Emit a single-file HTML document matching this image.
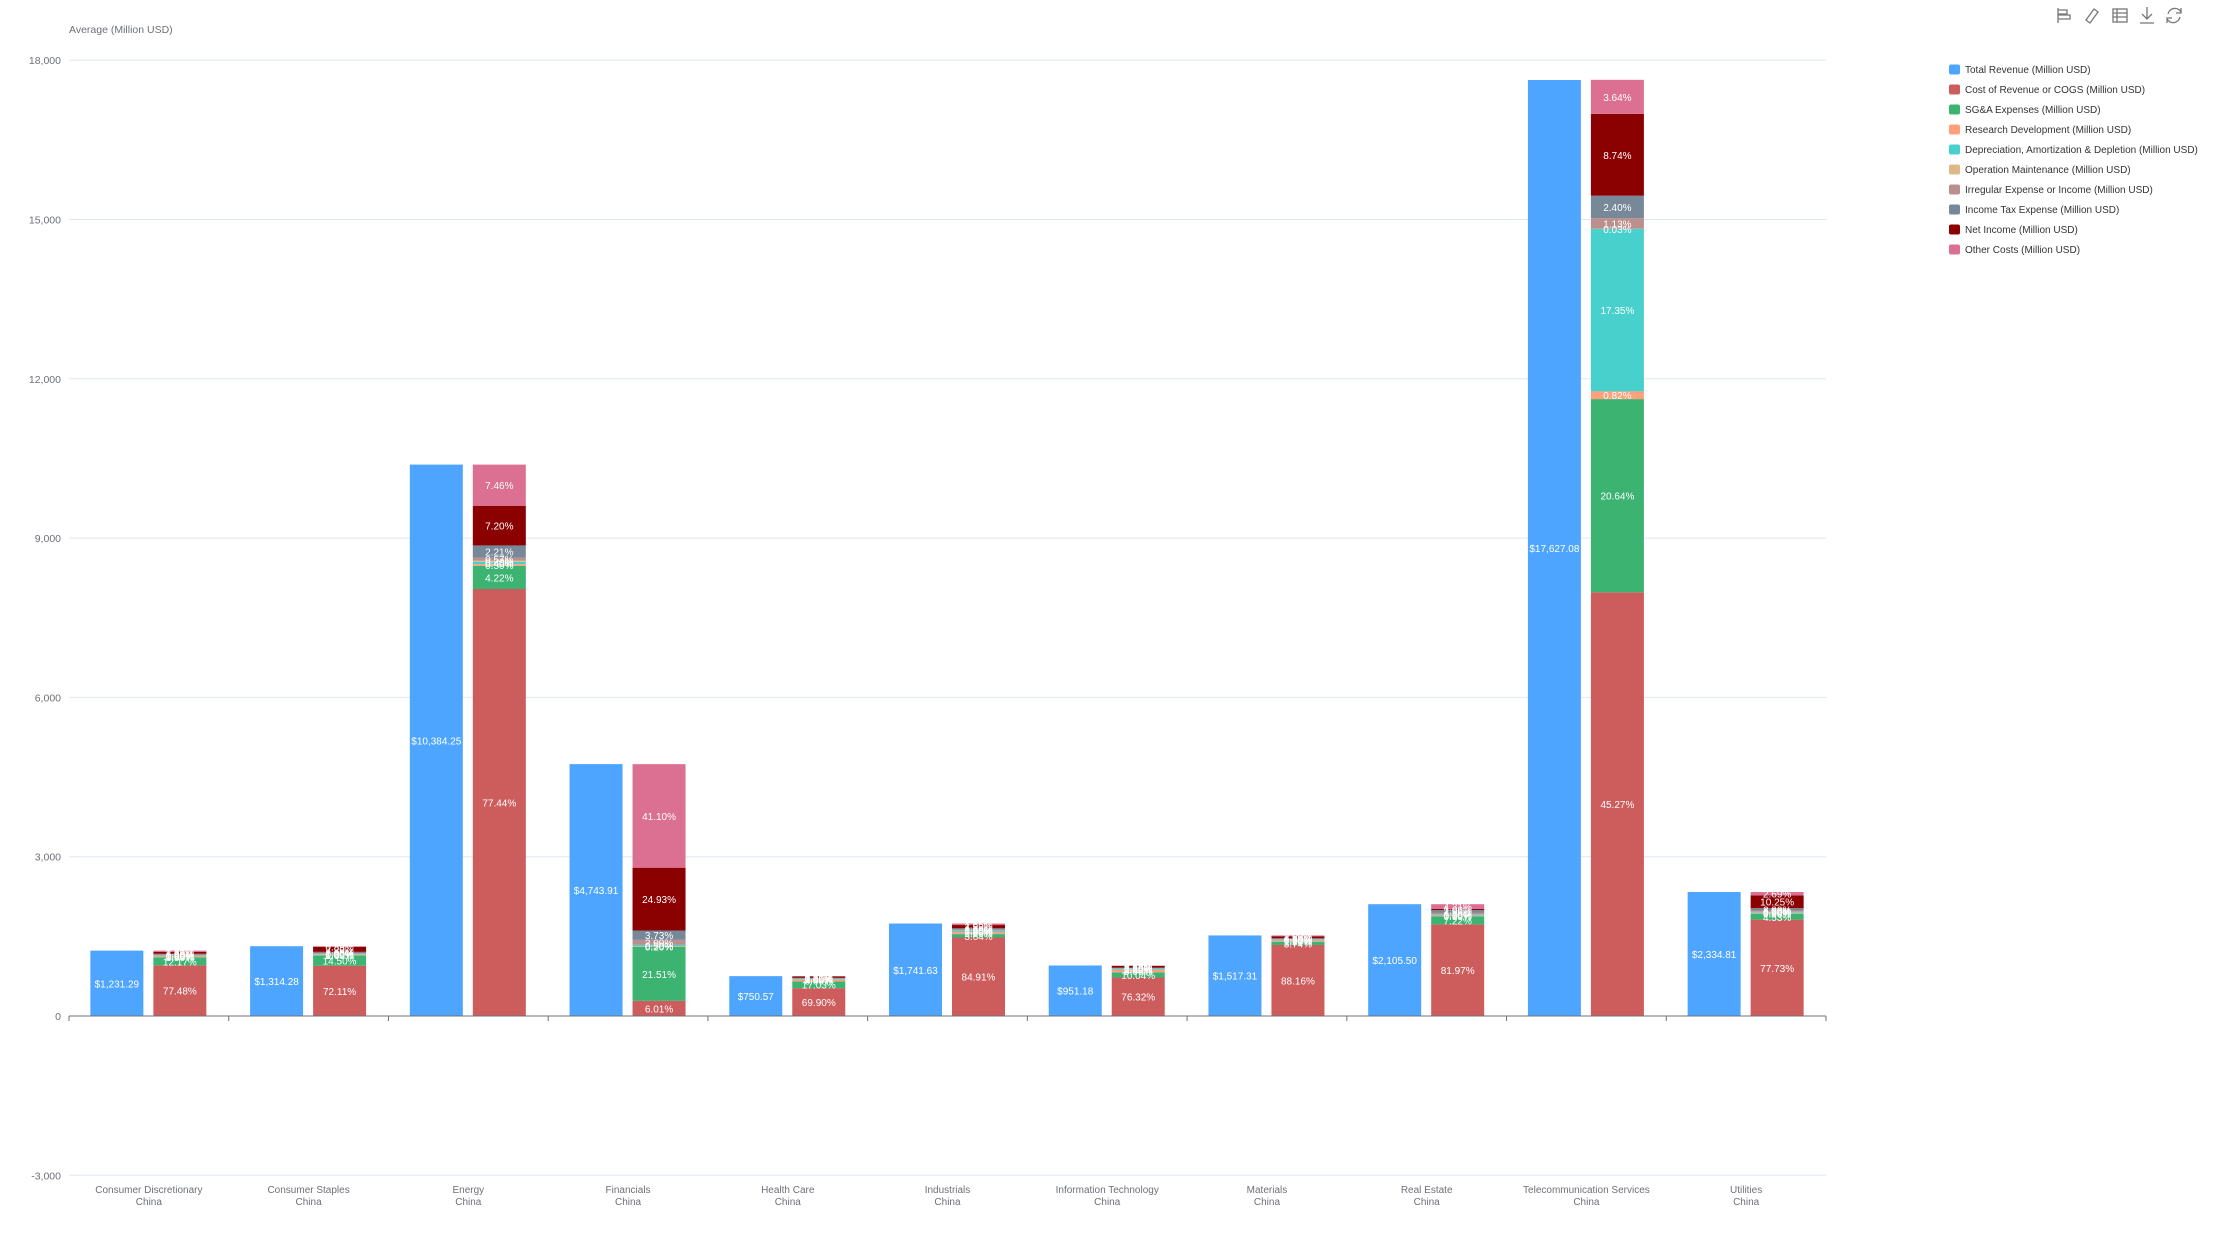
<!DOCTYPE html>
<html><head><meta charset="utf-8"><style>
body{margin:0;background:#fff;}
svg{display:block;font-family:"Liberation Sans",sans-serif;}
</style></head><body>
<svg id="c" width="2219" height="1245" xmlns="http://www.w3.org/2000/svg"></svg>
<script>
const S=document.getElementById('c');
let h='';
const L=69,R=1826,Z=1016,K=159.3/3000;
const y=v=>Z-v*K;
[18000,15000,12000,9000,6000,3000,0,-3000].forEach(v=>{
 if(v!==0)h+=`<line x1="${L}" x2="${R}" y1="${y(v)}" y2="${y(v)}" stroke="#e0e6f1" stroke-width="1"/>`;
 h+=`<text x="61" y="${y(v)+4}" text-anchor="end" font-size="10.5" fill="#6e7079">${v.toLocaleString('en-US')}</text>`;
});
h+=`<text x="69" y="33" font-size="10.5" fill="#6e7079">Average (Million USD)</text>`;
const cols=['#cd5c5c','#3cb371','#ffa07a','#48d1cc','#deb887','#bc8f8f','#778899','#8b0000','#db7093'];
const cats=[
['Consumer Discretionary',1231.29,[77.48,12.17,1.5,1.0,0.3,1.2,1.5,3.0,1.85]],
['Consumer Staples',1314.28,[72.11,14.50,1.0,1.0,0.3,1.0,2.0,7.2,0.89]],
['Energy',10384.25,[77.44,4.22,0.3,0.4,0.2,0.57,2.21,7.20,7.46]],
['Financials',4743.91,[6.01,21.51,0.2,0.5,0,2.0,3.73,24.93,41.10]],
['Health Care',750.57,[69.90,17.03,5,2,0.3,0,1.5,3.5,0.77]],
['Industrials',1741.63,[84.91,3.64,2,1.5,0.3,1,1.5,3.5,1.65]],
['Information Technology',951.18,[76.32,10.04,5,2,0.3,0.5,1.5,3.5,0.84]],
['Materials',1517.31,[88.16,3.74,1.5,1,0.3,0.5,1.3,2.5,1.0]],
['Real Estate',2105.50,[81.97,7.22,0.5,0.7,0.3,1.5,2.5,1.0,4.31]],
['Telecommunication Services',17627.08,[45.27,20.64,0.82,17.35,0.03,1.13,2.40,8.74,3.64]],
['Utilities',2334.81,[77.73,4.53,0.5,0.8,0.5,1,2.0,10.25,2.69]]];
const W=(R-L)/11,BW=53;
let labels='';
cats.forEach((c,i)=>{
 const cx=L+W*(i+0.5);
 const bx=cx-32-BW/2, rx=cx+31-BW/2;
 const top=y(c[1]);
 h+=`<rect x="${bx}" y="${top}" width="${BW}" height="${Z-top}" fill="#4ea5ff"/>`;
 labels+=`<text x="${cx-32}" y="${(top+Z)/2+4}" text-anchor="middle" font-size="10" fill="#fff">$${c[1].toLocaleString('en-US',{minimumFractionDigits:2})}</text>`;
 let acc=0;
 c[2].forEach((p,j)=>{
  if(p<=0)return;
  const v0=c[1]*acc/100,v1=c[1]*(acc+p)/100;acc+=p;
  const y0=y(v0),y1=y(v1);
  h+=`<rect x="${rx}" y="${y1}" width="${BW}" height="${y0-y1}" fill="${cols[j]}"/>`;
  labels+=`<text x="${cx+31}" y="${(y0+y1)/2+4}" text-anchor="middle" font-size="10" fill="#fff">${p.toFixed(2)}%</text>`;
 });
 h+=`<text x="${cx}" y="1193" text-anchor="middle" font-size="10" fill="#6e7079">${c[0]}</text>`;
 h+=`<text x="${cx}" y="1205" text-anchor="middle" font-size="10" fill="#6e7079">China</text>`;
});
h+=labels;
h+=`<line x1="${L}" x2="${R}" y1="${Z}" y2="${Z}" stroke="#6e7079" stroke-width="1"/>`;
for(let i=0;i<=11;i++){const x=L+W*i;h+=`<line x1="${x}" x2="${x}" y1="${Z}" y2="${Z+5}" stroke="#6e7079"/>`;}
const names=['Total Revenue (Million USD)','Cost of Revenue or COGS (Million USD)','SG&amp;A Expenses (Million USD)','Research Development (Million USD)','Depreciation, Amortization &amp; Depletion (Million USD)','Operation Maintenance (Million USD)','Irregular Expense or Income (Million USD)','Income Tax Expense (Million USD)','Net Income (Million USD)','Other Costs (Million USD)'];
const lc=['#4ea5ff'].concat(cols);
names.forEach((n,i)=>{const yy=69.5+i*20;
 h+=`<rect x="1949" y="${yy-5}" width="11" height="10" rx="2" fill="${lc[i]}"/>`;
 h+=`<text x="1965" y="${yy+3.5}" font-size="10" fill="#333">${n}</text>`;});
// toolbar icons
const st='fill="none" stroke="#777" stroke-width="1.3"';
h+=`<path d="M2058 8v15 M2058 10h9v4h-9 M2058 15h12v4h-12" ${st}/>`;
h+=`<path d="M2086 20l8-11 4 3-8 11z" ${st}/>`;
h+=`<rect x="2113" y="9" width="14" height="13" ${st}/><path d="M2113 13h14M2113 17h14M2117 9v13" ${st}/>`;
h+=`<path d="M2147 7v12M2142 14l5 5 5-5M2140 23h14" ${st}/>`;
h+=`<path d="M2181 12a7 7 0 0 0-13 2M2167 19a7 7 0 0 0 13-2" ${st}/><path d="M2181 8v5h-5M2167 23v-5h5" ${st}/>`;
S.innerHTML=h;
</script>
</body></html>
